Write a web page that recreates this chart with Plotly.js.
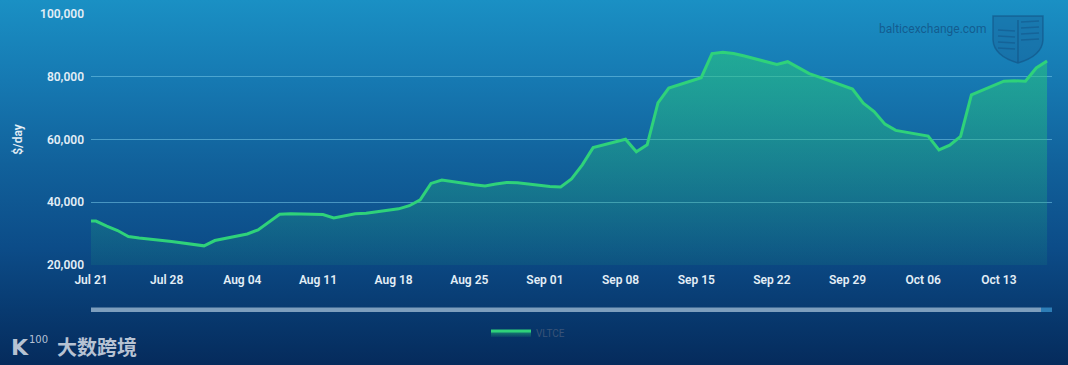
<!DOCTYPE html>
<html>
<head>
<meta charset="utf-8">
<script src="https://cdn.plot.ly/plotly-3.0.1.min.js"></script>
<style>
  html, body { margin: 0; padding: 0; }
  body {
    width: 1068px; height: 365px; overflow: hidden;
    background: linear-gradient(to bottom, #1a90c4 0%, #1679b2 22%, #11619b 45%, #0c4c88 68%, #083a70 85%, #052b5c 100%);
  }
  #chart { width: 1068px; height: 365px; }
</style>
</head>
<body>
<div id="chart"></div>
<script>
// ---- data ----
const seriesName = 'VLTCE';
const publishTime = '11:00';
const dates = [
  '2025-07-18','2025-07-21','2025-07-22','2025-07-23','2025-07-24','2025-07-25',
  '2025-07-28','2025-07-29','2025-07-30','2025-07-31','2025-08-01',
  '2025-08-04','2025-08-05','2025-08-06','2025-08-07','2025-08-08',
  '2025-08-11','2025-08-12','2025-08-13','2025-08-14','2025-08-15',
  '2025-08-18','2025-08-19','2025-08-20','2025-08-21','2025-08-22',
  '2025-08-25','2025-08-26','2025-08-27','2025-08-28','2025-08-29',
  '2025-09-01','2025-09-02','2025-09-03','2025-09-04','2025-09-05',
  '2025-09-08','2025-09-09','2025-09-10','2025-09-11','2025-09-12',
  '2025-09-15','2025-09-16','2025-09-17','2025-09-18','2025-09-19',
  '2025-09-22','2025-09-23','2025-09-24','2025-09-25','2025-09-26',
  '2025-09-29','2025-09-30','2025-10-01','2025-10-02','2025-10-03',
  '2025-10-06','2025-10-07','2025-10-08','2025-10-09','2025-10-10',
  '2025-10-13','2025-10-14','2025-10-15','2025-10-16','2025-10-17'
];
const vltce = [
  34100, 34000, 32400, 31000, 29100, 28600,
  27500, 27000, 26400, 26100, 27800,
  29900, 31200, 33800, 36200, 36300,
  36100, 35000, 35600, 36300, 36500,
  37900, 38900, 40800, 46000, 47100,
  45600, 45200, 45800, 46300, 46200,
  45000, 44900, 47400, 51900, 57400,
  60100, 56100, 58300, 71700, 76400,
  79700, 87400, 87800, 87400, 86600,
  83900, 84800, 82900, 81000, 79800,
  76100, 71600, 68900, 64900, 62900,
  61100, 56700, 58200, 61000, 74200,
  78600, 78700, 78600, 82800, 85000
];
const yTicks = [20000, 40000, 60000, 80000, 100000];
const yTickLabels = ['20,000', '40,000', '60,000', '80,000', '100,000'];
const yTitle = '$/day';
const xStart = '2025-07-21';
const xEnd = '2025-10-17 22:00';

// ---- layout helpers ----
const W = 1068, H = 365;
const M = { l: 91, r: 16, t: 14, b: 100 };
const pw = W - M.l - M.r, ph = H - M.t - M.b;
const px = x => (x - M.l) / pw;
const py = y => (H - M.b - y) / ph;

const trace = {
  x: dates.map(d => d + ' ' + publishTime),
  y: vltce,
  type: 'scatter',
  mode: 'lines',
  name: seriesName,
  line: { color: '#2fd27a', width: 3 },
  fill: 'tozeroy',
  fillgradient: {
    type: 'vertical',
    start: 20000,
    stop: 88000,
    colorscale: [[0, 'rgba(38,190,120,0.10)'], [1, 'rgba(40,200,125,0.58)']]
  },
  hoverinfo: 'skip'
};

// shield watermark path (pixel coordinates -> paper)
function P(x, y) { return px(x).toFixed(4) + ',' + py(y).toFixed(4); }
const shieldPath = 'M' + P(993, 16) + ' L' + P(1043, 16) + ' L' + P(1043, 40) +
  ' Q' + P(1042, 56) + ' ' + P(1018, 63) + ' Q' + P(994, 56) + ' ' + P(993, 40) + ' Z';
const shieldDivider = 'M' + P(1018, 20) + ' L' + P(1018, 62);

const shapes = [
  { type: 'path', xref: 'paper', yref: 'paper', path: shieldPath,
    fillcolor: 'rgba(25,100,155,0.45)', line: { color: 'rgba(18,78,128,0.55)', width: 1.5 } },
  { type: 'path', xref: 'paper', yref: 'paper', path: shieldDivider,
    line: { color: 'rgba(18,78,128,0.55)', width: 1.5 } },
  // scrollbar
  { type: 'rect', xref: 'paper', yref: 'paper', x0: px(91), x1: px(1041), y0: py(312), y1: py(307.5),
    fillcolor: '#7d9ebd', line: { width: 0 } },
  { type: 'rect', xref: 'paper', yref: 'paper', x0: px(1041), x1: px(1052), y0: py(312), y1: py(307.5),
    fillcolor: '#2d7db6', line: { width: 0 } }
];
// shield wave lines
[30, 36, 42, 48].forEach(function (yy) {
  shapes.push({ type: 'line', xref: 'paper', yref: 'paper',
    x0: px(998), x1: px(1015), y0: py(yy), y1: py(yy + 1),
    line: { color: 'rgba(18,78,128,0.45)', width: 1.5 } });
  shapes.push({ type: 'line', xref: 'paper', yref: 'paper',
    x0: px(1021), x1: px(1039), y0: py(yy - 8), y1: py(yy - 9),
    line: { color: 'rgba(18,78,128,0.45)', width: 1.5 } });
});

const wmColor = 'rgba(215,222,232,0.85)';
const annotations = [
  { xref: 'paper', yref: 'paper', x: px(932), y: py(29), xanchor: 'center', yanchor: 'middle',
    text: 'balticexchange.com', showarrow: false,
    font: { family: 'Roboto, sans-serif', size: 12, color: 'rgba(18,78,128,0.75)' } },
  { xref: 'paper', yref: 'paper', x: px(97), y: py(346), xanchor: 'center', yanchor: 'middle',
    text: '大数跨境', showarrow: false,
    font: { family: 'Noto Sans CJK SC, sans-serif', size: 20, weight: 700, color: wmColor } },
  { xref: 'paper', yref: 'paper', x: px(20), y: py(347), xanchor: 'center', yanchor: 'middle',
    text: 'K', showarrow: false,
    font: { family: 'DejaVu Sans, sans-serif', size: 22, weight: 700, color: wmColor } },
  { xref: 'paper', yref: 'paper', x: px(38), y: py(339), xanchor: 'center', yanchor: 'middle',
    text: '100', showarrow: false,
    font: { family: 'DejaVu Sans, sans-serif', size: 10, color: wmColor } }
];

const tickFont = { family: 'Roboto, sans-serif', size: 12, weight: 600, color: '#e3eef6' };

const layout = {
  width: W, height: H,
  margin: M,
  paper_bgcolor: 'rgba(0,0,0,0)',
  plot_bgcolor: 'rgba(0,0,0,0)',
  showlegend: true,
  legend: {
    orientation: 'h', x: px(486), y: py(333), xanchor: 'left', yanchor: 'middle',
    bgcolor: 'rgba(0,0,0,0)', font: { family: 'Roboto, sans-serif', size: 10, color: '#3a5478' },
    itemwidth: 40
  },
  xaxis: {
    type: 'date',
    range: [xStart, xEnd],
    tick0: xStart,
    dtick: 7 * 24 * 3600 * 1000,
    tickformat: '%b %d',
    showgrid: false,
    zeroline: false,
    showline: false,
    ticks: '',
    ticklabelstandoff: 6,
    tickfont: tickFont,
    fixedrange: true
  },
  yaxis: {
    range: [20000, 100000],
    tickvals: yTicks,
    ticktext: yTickLabels,
    showgrid: true,
    gridcolor: 'rgba(120,200,232,0.55)',
    gridwidth: 1,
    zeroline: false,
    showline: false,
    ticks: '',
    ticklabelstandoff: 6,
    tickfont: tickFont,
    title: { text: yTitle, standoff: 14, font: { family: 'Roboto, sans-serif', size: 12, weight: 600, color: '#e3eef6' } },
    fixedrange: true
  },
  shapes: shapes,
  annotations: annotations,
  hovermode: false
};

Plotly.newPlot('chart', [trace], layout, { displayModeBar: false, staticPlot: true });
</script>
</body>
</html>
